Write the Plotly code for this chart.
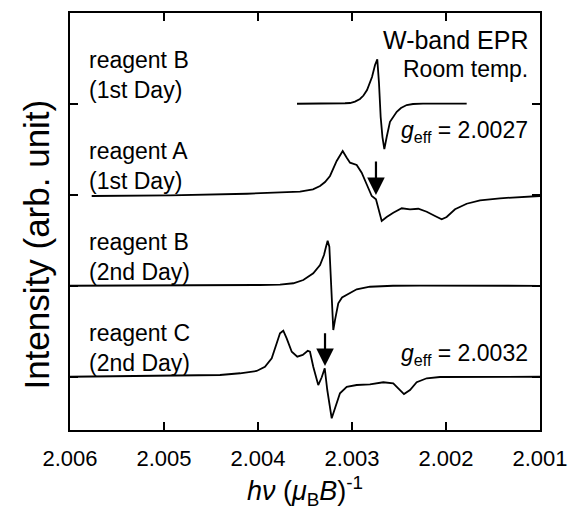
import plotly.graph_objects as go

# ---- data (g value, intensity relative to each baseline) ----
g_B1 = [2.003585, 2.003234, 2.003074, 2.003021, 2.002968, 2.002915, 2.002878, 2.00284, 2.002787,
        2.002755, 2.002731, 2.002713, 2.002695, 2.002676, 2.002656, 2.002631, 2.002596, 2.002524,
        2.002479, 2.002418, 2.002351, 2.002245, 2.00178]
I_B1 = [0.003, 0.002, 0.008, 0.011, 0.027, 0.055, 0.093, 0.154, 0.297,
        0.429, 0.491, 0.231, -0.143, -0.363, -0.495, -0.363, -0.195, -0.085,
        -0.044, -0.011, 0.0, 0.005, 0.005]

g_A1 = [2.005769, 2.004936, 2.004117, 2.003819, 2.003553, 2.003415, 2.00334, 2.003287, 2.003234,
        2.003163, 2.003128, 2.003099, 2.003056, 2.003021, 2.00295, 2.002897, 2.002844, 2.00279,
        2.002745, 2.00272, 2.002684, 2.002631, 2.002561, 2.002471, 2.002383, 2.002295, 2.002205,
        2.002117, 2.002046, 2.001993, 2.001904, 2.00178, 2.001638, 2.001426, 2.001213, 2.001]
I_A1 = [-0.011, -0.005, 0.014, 0.027, 0.036, 0.063, 0.099, 0.143, 0.209,
        0.374, 0.440, 0.484, 0.410, 0.355, 0.330, 0.245, 0.118, -0.011,
        -0.047, -0.140, -0.286, -0.242, -0.195, -0.146, -0.157, -0.151, -0.184,
        -0.231, -0.267, -0.242, -0.157, -0.096, -0.058, -0.036, -0.022, -0.011]

g_B2 = [2.006, 2.004617, 2.003979, 2.003766, 2.003624, 2.003518, 2.003412, 2.00334, 2.003298,
        2.003277, 2.003259, 2.003241, 2.003227, 2.003213, 2.003199, 2.003181, 2.003146, 2.003106,
        2.003056, 2.002986, 2.00295, 2.002809, 2.002564, 2.002277, 2.001]
I_B2 = [0.003, 0.005, 0.011, 0.016, 0.030, 0.066, 0.140, 0.231, 0.341,
        0.429, 0.498, 0.432, 0.140, -0.154, -0.484, -0.374, -0.190, -0.126,
        -0.099, -0.063, -0.036, -0.008, 0.003, 0.005, 0.002]

g_C2 = [2.006, 2.005149, 2.004404, 2.004191, 2.004014, 2.003926, 2.003854, 2.003801, 2.003766,
        2.003731, 2.003695, 2.003641, 2.003582, 2.003524, 2.003471, 2.003447, 2.003412, 2.003359,
        2.003322, 2.00329, 2.003263, 2.003216, 2.003181, 2.003128, 2.003056, 2.00295, 2.002809,
        2.002667, 2.002561, 2.002507, 2.002447, 2.002383, 2.002312, 2.002205, 2.002064, 2.001]
I_C2 = [0.003, 0.011, 0.022, 0.041, 0.066, 0.113, 0.205, 0.370, 0.480,
        0.509, 0.425, 0.278, 0.223, 0.242, 0.289, 0.278, 0.113, -0.088,
        -0.003, 0.096, -0.143, -0.454, -0.344, -0.179, -0.107, -0.088, -0.080,
        -0.058, -0.069, -0.121, -0.187, -0.143, -0.058, -0.014, 0.0, 0.003]

series_names = ["reagent B<br>(1st Day)", "reagent A<br>(1st Day)",
                "reagent B<br>(2nd Day)", "reagent C<br>(2nd Day)"]
baselines = [4, 3, 2, 1]
series_g = [g_B1, g_A1, g_B2, g_C2]
series_I = [I_B1, I_A1, I_B2, I_C2]

x_ticks = [2.006, 2.005, 2.004, 2.003, 2.002, 2.001]
x_ticklabels = ["2.006", "2.005", "2.004", "2.003", "2.002", "2.001"]

arrow_g = [2.002745, 2.003287]
arrow_tip = [3.0, 1.121]
arrow_tail = [3.385, 1.498]

FONT = "Liberation Sans, Arial, Helvetica, sans-serif"

fig = go.Figure()
for g, I, b, name in zip(series_g, series_I, baselines, series_names):
    fig.add_trace(go.Scatter(x=g, y=[v + b for v in I], mode="lines",
                             line=dict(color="black", width=1.8),
                             name=name, showlegend=False, hoverinfo="skip"))

annotations = []
for name, b in zip(series_names, baselines):
    annotations.append(dict(text=name, xref="paper", yref="y", x=0.036, y=b + 0.32,
                            xanchor="left", yanchor="middle", align="left",
                            showarrow=False, font=dict(size=23, color="black", family=FONT)))

annotations.append(dict(text="W-band EPR", xref="paper", yref="paper",
                        x=0.979, y=0.935, xanchor="right", yanchor="middle", align="right",
                        showarrow=False, font=dict(size=25, color="black", family=FONT)))
annotations.append(dict(text="Room temp.", xref="paper", yref="paper",
                        x=0.979, y=0.866, xanchor="right", yanchor="middle", align="right",
                        showarrow=False, font=dict(size=23, color="black", family=FONT)))
annotations.append(dict(text="<i>g</i><sub>eff</sub> = 2.0027", xref="paper", yref="paper",
                        x=0.979, y=0.715, xanchor="right", yanchor="middle", align="right",
                        showarrow=False, font=dict(size=23, color="black", family=FONT)))
annotations.append(dict(text="<i>g</i><sub>eff</sub> = 2.0032", xref="paper", yref="paper",
                        x=0.979, y=0.18, xanchor="right", yanchor="middle", align="right",
                        showarrow=False, font=dict(size=23, color="black", family=FONT)))

# y-axis title as a rotated annotation (precise placement)
annotations.append(dict(text="Intensity (arb. unit)", xref="paper", yref="paper",
                        x=-0.072, y=0.445, xanchor="center", yanchor="middle",
                        textangle=-90, showarrow=False,
                        font=dict(size=35, color="black", family=FONT)))

for ag, tip, tail in zip(arrow_g, arrow_tip, arrow_tail):
    annotations.append(dict(text="", x=ag, y=tip, ax=ag, ay=tail, xref="x", yref="y",
                            axref="x", ayref="y", showarrow=True, arrowhead=2,
                            arrowsize=1.6, arrowwidth=2.2, arrowcolor="black", standoff=0))

fig.update_layout(
    width=568, height=510,
    margin=dict(l=70, r=28, t=13, b=80),
    paper_bgcolor="white", plot_bgcolor="white",
    font=dict(family=FONT, color="black", size=22),
    annotations=annotations,
    xaxis=dict(range=[2.006, 2.001], tickvals=x_ticks, ticktext=x_ticklabels,
               ticks="inside", ticklen=8, tickwidth=2, tickcolor="black",
               showline=True, linewidth=2, linecolor="black", mirror="ticks",
               showgrid=False, zeroline=False, automargin=False,
               ticklabelstandoff=8,
               tickfont=dict(size=22, family=FONT),
               title=dict(text="<i>h</i><i>ν</i> (<i>μ</i><sub>B</sub><i>B</i>)<sup>-1</sup>",
                          font=dict(size=27, family=FONT), standoff=15)),
    yaxis=dict(range=[0.4176, 5.0], tickvals=baselines, showticklabels=False,
               ticks="inside", ticklen=8, tickwidth=2, tickcolor="black",
               showline=True, linewidth=2, linecolor="black", mirror="ticks",
               showgrid=False, zeroline=False, automargin=False),
)

fig.write_html("out.html", config={"displayModeBar": False},
               post_script="document.body.style.margin='0px';document.body.style.overflow='hidden';")
